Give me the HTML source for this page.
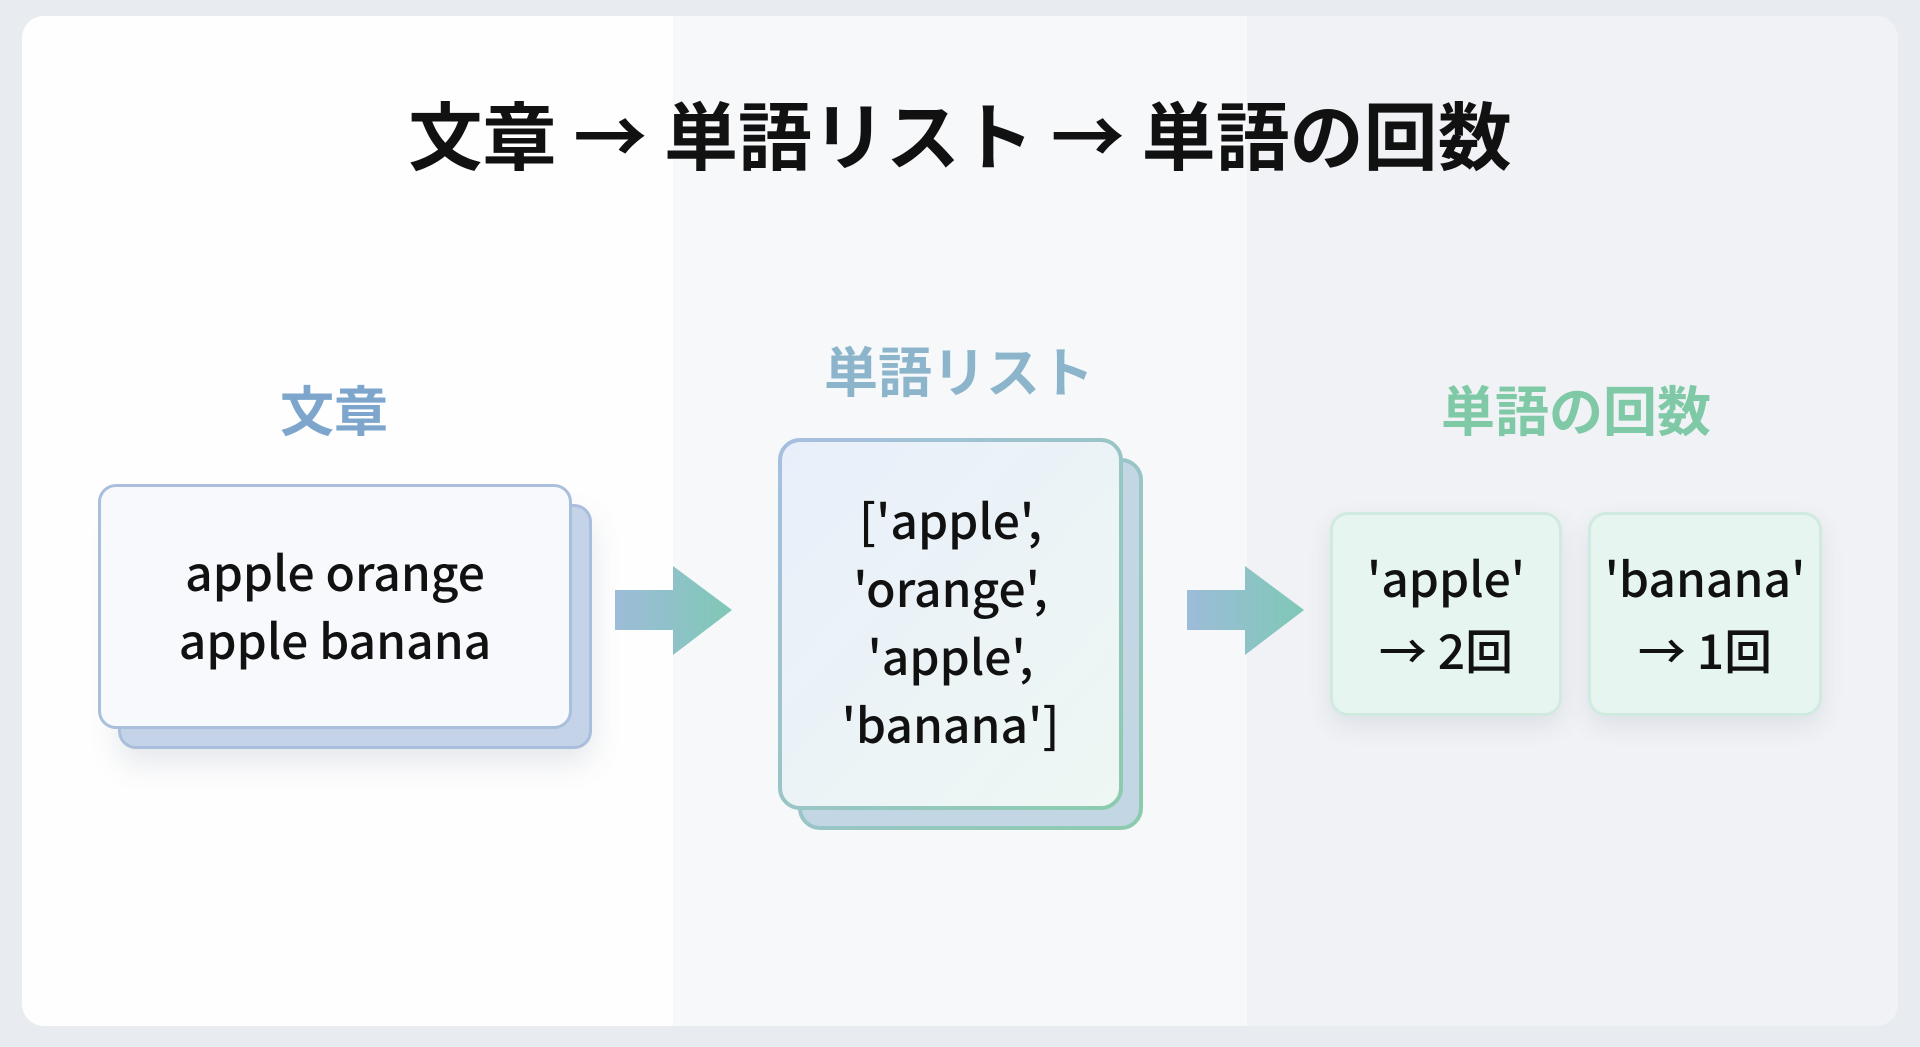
<!DOCTYPE html>
<html><head><meta charset="utf-8"><style>
body{margin:0;width:1920px;height:1047px;background:#e8ebef;overflow:hidden;font-family:"Liberation Sans","Noto Sans CJK JP",sans-serif;}
.panel{position:absolute;left:22px;top:16px;width:1876px;height:1010px;border-radius:22px;overflow:hidden;background:linear-gradient(90deg,#fefefe 0,#fefefe 651px,#f6f8fa 651px,#f6f8fa 1225px,#f0f2f5 1225px);}
.t{position:absolute;font-family:"Noto Sans CJK JP",sans-serif;white-space:nowrap;text-align:center;}
.title{left:0;width:1920px;top:79px;font-size:74px;font-weight:700;color:#111;}
.lbl{font-weight:700;font-size:54px;}
.box{position:absolute;border-radius:18px;box-sizing:border-box;}
.txt{position:absolute;font-family:"Noto Sans CJK JP",sans-serif;color:#111;text-align:center;font-weight:500;}
</style></head><body>
<div class="panel"></div>
<div class="t title">文章 → 単語リスト → 単語の回数</div>

<div class="t lbl" style="left:234px;width:200px;top:368px;color:#7ea6cc">文章</div>
<div class="t lbl" style="left:759px;width:400px;top:329px;color:#8cb5cc">単語リスト</div>
<div class="t lbl" style="left:1376px;width:400px;top:368px;color:#7fc9a6">単語の回数</div>

<div class="box" style="left:118px;top:504px;width:474px;height:245px;background:#c5d3e8;border:3px solid #a9bedc;box-shadow:0 14px 30px rgba(80,100,130,.15)"></div>
<div class="box" style="left:98px;top:484px;width:474px;height:245px;background:#f7f9fc;border:3px solid #a9bfdc"></div>
<div class="txt" style="left:98px;width:474px;top:536px;font-size:48px;line-height:68px">apple orange<br>apple banana</div>

<svg style="position:absolute;left:0;top:0" width="1920" height="1047">
<defs><linearGradient id="g" x1="0" x2="1"><stop offset="0" stop-color="#9dbcd9"/><stop offset="1" stop-color="#7fc8b6"/></linearGradient>
<linearGradient id="b" x1="0" y1="0" x2="1" y2="1"><stop offset="0" stop-color="#a7bfe0"/><stop offset="1" stop-color="#8ccbae"/></linearGradient>
<linearGradient id="f" x1="0" y1="0" x2="1" y2="1"><stop offset="0" stop-color="#e9effa"/><stop offset="1" stop-color="#eef7f3"/></linearGradient></defs>
<polygon points="615,590 673,590 673,566 732,610 673,655 673,630 615,630" fill="url(#g)"/>
<polygon points="1187,590 1245,590 1245,566 1304,610 1245,655 1245,630 1187,630" fill="url(#g)"/>
<rect x="800" y="460" width="341" height="368" rx="20" fill="#c3d6e3" stroke="url(#b)" stroke-width="4"/>
<rect x="780" y="440" width="341" height="368" rx="20" fill="url(#f)" stroke="url(#b)" stroke-width="4"/>
</svg>
<div class="txt" style="left:780px;width:341px;top:484px;font-size:48px;line-height:68px">['apple',<br>'orange',<br>'apple',<br>'banana']</div>

<div class="box" style="left:1330px;top:512px;width:232px;height:204px;background:#e6f5ef;border:3px solid #d0eadf;box-shadow:0 10px 24px rgba(80,100,130,.12)"></div>
<div class="box" style="left:1588px;top:512px;width:234px;height:204px;background:#e6f5ef;border:3px solid #d0eadf;box-shadow:0 10px 24px rgba(80,100,130,.12)"></div>
<div class="txt" style="left:1330px;width:232px;top:540px;font-size:48px;line-height:72px">'apple'<br>→ 2回</div>
<div class="txt" style="left:1588px;width:234px;top:540px;font-size:48px;line-height:72px">'banana'<br>→ 1回</div>
</body></html>
